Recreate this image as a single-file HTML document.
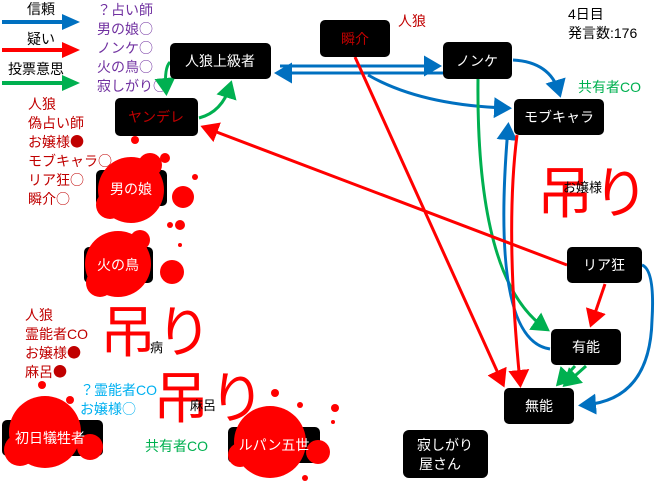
<!DOCTYPE html>
<html><head><meta charset="utf-8"><style>
body{margin:0;background:#fff;}
svg text{font-family:"Liberation Sans","Noto Sans CJK JP",sans-serif;}
svg tspan.c{font-family:"Noto Sans CJK JP",sans-serif;}
</style></head><body>
<svg width="660" height="484" viewBox="0 0 660 484" xmlns="http://www.w3.org/2000/svg">
<defs>
<marker id="ab" markerWidth="7" markerHeight="7" refX="4" refY="3.5" orient="auto" markerUnits="strokeWidth"><path d="M0,0 L6,3.5 L0,7 z" fill="#0070c0"/></marker>
<marker id="ar" markerWidth="7" markerHeight="7" refX="4" refY="3.5" orient="auto" markerUnits="strokeWidth"><path d="M0,0 L6,3.5 L0,7 z" fill="#ff0000"/></marker>
<marker id="ag" markerWidth="7" markerHeight="7" refX="4" refY="3.5" orient="auto" markerUnits="strokeWidth"><path d="M0,0 L6,3.5 L0,7 z" fill="#00b050"/></marker>
</defs>
<!-- legend -->
<text x="27" y="14" font-size="14">信頼</text>
<line x1="2" y1="22" x2="62" y2="22" stroke="#0070c0" stroke-width="4"/><path d="M62,14 L80,22 L62,30z" fill="#0070c0"/>
<text x="27" y="44" font-size="14">疑い</text>
<line x1="2" y1="50" x2="62" y2="50" stroke="#ff0000" stroke-width="4"/><path d="M62,42 L80,50 L62,58z" fill="#ff0000"/>
<text x="8" y="74" font-size="14">投票意思</text>
<line x1="2" y1="83" x2="62" y2="83" stroke="#00b050" stroke-width="4"/><path d="M62,75 L80,83 L62,91z" fill="#00b050"/>
<g font-size="14" fill="#7030a0">
<text x="97" y="15">？占い師</text><text x="97" y="34">男の娘<tspan class="c">○</tspan></text><text x="97" y="53">ノンケ<tspan class="c">○</tspan></text><text x="97" y="72">火の鳥<tspan class="c">○</tspan></text><text x="97" y="91">寂しがり<tspan class="c">○</tspan></text></g>
<g font-size="14" fill="#c00000">
<text x="28" y="109">人狼</text><text x="28" y="128">偽占い師</text><text x="28" y="147">お嬢様<tspan class="c">●</tspan></text><text x="28" y="166">モブキャラ<tspan class="c">○</tspan></text><text x="28" y="185">リア狂<tspan class="c">○</tspan></text><text x="28" y="204">瞬介<tspan class="c">○</tspan></text>
<text x="25" y="320">人狼</text><text x="25" y="339">霊能者CO</text><text x="25" y="358">お嬢様<tspan class="c">●</tspan></text><text x="25" y="377">麻呂<tspan class="c">●</tspan></text></g>
<g font-size="14" fill="#00b0f0"><text x="80" y="395">？霊能者CO</text><text x="80" y="414">お嬢様<tspan class="c">○</tspan></text></g>
<text x="398" y="26" font-size="14" fill="#c00000">人狼</text>
<text x="568" y="19" font-size="14">4日目</text><text x="568" y="38" font-size="14">発言数:176</text>
<text x="578" y="92" font-size="14" fill="#00b050">共有者CO</text>
<text x="145" y="451" font-size="14" fill="#00b050">共有者CO</text>
<!-- big text -->
<g font-size="56" fill="#ff0000">
<text x="100" y="352">吊り</text><text x="153" y="418">吊り</text><text x="537" y="213">吊り</text></g>
<text x="150" y="352" font-size="13">病</text>
<text x="190" y="410" font-size="13">麻呂</text>
<text x="563" y="192" font-size="13">お嬢様</text>
<!-- arrows -->
<g fill="none" stroke-width="3">
<line x1="280" y1="66" x2="436" y2="66" stroke="#0070c0" marker-end="url(#ab)"/>
<line x1="443" y1="73" x2="280" y2="73" stroke="#0070c0" marker-end="url(#ab)"/>
<path d="M368,75 Q420,105 506,108" stroke="#0070c0" marker-end="url(#ab)"/>
<path d="M513,60 Q550,62 559,92" stroke="#0070c0" marker-end="url(#ab)"/>
<path d="M478,79 Q476,280 545,328" stroke="#00b050" marker-end="url(#ag)"/>
<path d="M550,349 Q490,340 508,128" stroke="#0070c0" marker-end="url(#ab)"/>
<path d="M517,135 Q505,230 520,382" stroke="#ff0000" marker-end="url(#ar)"/>
<line x1="355" y1="57" x2="502" y2="382" stroke="#ff0000" marker-end="url(#ar)"/>
<line x1="567" y1="265" x2="206" y2="128" stroke="#ff0000" marker-end="url(#ar)"/>
<line x1="605" y1="284" x2="592" y2="322" stroke="#ff0000" marker-end="url(#ar)"/>
<path d="M642,265 Q655,270 652,320 Q650,400 584,405" stroke="#0070c0" marker-end="url(#ab)"/>
<line x1="575" y1="366" x2="560" y2="382" stroke="#00b050" marker-end="url(#ag)"/>
<line x1="586" y1="366" x2="567" y2="383" stroke="#00b050" marker-end="url(#ag)"/>
<path d="M199,118 Q222,112 230,86" stroke="#00b050" marker-end="url(#ag)"/>
<path d="M170,62 Q164,68 166,90" stroke="#00b050" marker-end="url(#ag)"/>
</g>
<!-- nodes -->
<g fill="#000">
<rect x="170" y="43" width="101" height="36" rx="5"/>
<rect x="115" y="98" width="83" height="38" rx="5"/>
<rect x="320" y="20" width="70" height="37" rx="5"/>
<rect x="443" y="42" width="69" height="37" rx="5"/>
<rect x="514" y="99" width="90" height="36" rx="5"/>
<rect x="567" y="247" width="75" height="36" rx="5"/>
<rect x="551" y="329" width="70" height="36" rx="5"/>
<rect x="504" y="388" width="70" height="36" rx="5"/>
<rect x="403" y="430" width="85" height="48" rx="6"/>
<rect x="96" y="170" width="71" height="36" rx="5"/>
<rect x="84" y="247" width="69" height="36" rx="5"/>
<rect x="2" y="420" width="101" height="36" rx="5"/>
<rect x="228" y="427" width="92" height="36" rx="5"/>
</g>
<!-- blood -->
<g fill="#ff0000">
<circle cx="131" cy="190" r="33"/><circle cx="110" cy="205" r="14"/><circle cx="150" cy="165" r="12"/><circle cx="183" cy="197" r="11"/><circle cx="165" cy="158" r="5"/><circle cx="195" cy="177" r="3"/><circle cx="180" cy="225" r="5"/><circle cx="170" cy="225" r="3"/><circle cx="135" cy="140" r="4"/>
<circle cx="118" cy="264" r="33"/><circle cx="100" cy="283" r="14"/><circle cx="172" cy="272" r="12"/><circle cx="140" cy="240" r="10"/><circle cx="180" cy="245" r="2"/>
<circle cx="45" cy="432" r="36"/><circle cx="90" cy="447" r="13"/><circle cx="20" cy="450" r="16"/><circle cx="42" cy="385" r="4"/><circle cx="70" cy="400" r="4"/>
<circle cx="270" cy="442" r="36"/><circle cx="318" cy="452" r="12"/><circle cx="240" cy="455" r="12"/><circle cx="275" cy="393" r="4"/><circle cx="300" cy="405" r="3"/><circle cx="305" cy="478" r="3"/>
<circle cx="335" cy="408" r="4"/><circle cx="333" cy="422" r="2"/>
</g>
<!-- node labels -->
<g font-size="14" fill="#fff" text-anchor="middle">
<text x="220" y="66">人狼上級者</text>
<text x="156" y="122" fill="#c00000">ヤンデレ</text>
<text x="355" y="44" fill="#c00000">瞬介</text>
<text x="477" y="66">ノンケ</text>
<text x="559" y="122">モブキャラ</text>
<text x="604" y="270">リア狂</text>
<text x="586" y="352">有能</text>
<text x="539" y="411">無能</text>
<text x="445" y="450">寂しがり</text>
<text x="440" y="469">屋さん</text>
<text x="131" y="194">男の娘</text>
<text x="118" y="270">火の鳥</text>
<text x="50" y="443">初日犠牲者</text>
<text x="274" y="450">ルパン五世</text>
</g>
</svg>
</body></html>
